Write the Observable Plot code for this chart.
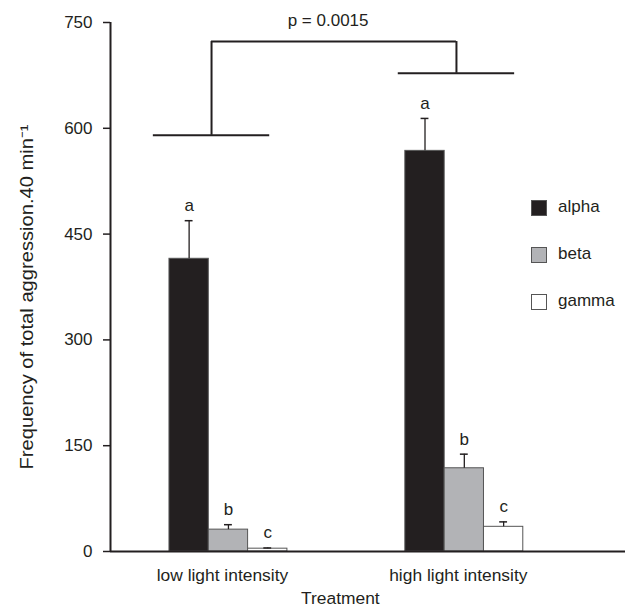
<!DOCTYPE html>
<html>
<head>
<meta charset="utf-8">
<script src="https://cdn.jsdelivr.net/npm/d3@7"></script>
<script src="https://cdn.jsdelivr.net/npm/@observablehq/plot@0.6"></script>
<style>
  html, body { margin: 0; padding: 0; background: #fff; }
  #wrap { position: relative; width: 627px; height: 607px; font-family: "Liberation Sans", Arial, sans-serif; color: #231f20; }
  #legend { position: absolute; left: 531px; top: 200px; font-size: 17px; }
  .row { position: relative; height: 47px; }
  .sw { position: absolute; left: 0; top: 0; width: 14px; height: 14px; border: 1px solid #555; }
  .lab { position: absolute; left: 27px; top: -3px; line-height: 20px; }
</style>
</head>
<body>
<div id="wrap"></div>
<script>
// ---- data ----
const treatments = ["low light intensity", "high light intensity"];
const seriesNames = ["alpha", "beta", "gamma"];
const seriesColors = ["#231f20", "#b2b3b6", "#ffffff"];
const alphaMeans = [415, 568];
const betaMeans = [31, 118];
const gammaMeans = [4, 35];
const alphaErr = [54, 46];
const betaErr = [7, 20];
const gammaErr = [1, 7];
const alphaLetters = ["a", "a"];
const betaLetters = ["b", "b"];
const gammaLetters = ["c", "c"];
const yTicks = [0, 150, 300, 450, 600, 750];
const bracketLevels = [590, 678];
const bracketTop = 723;
const pLabel = "p = 0.0015";
const xTitle = "Treatment";
const yTitle = "Frequency of total aggression.40 min\u207B\u00B9";

// ---- build table ----
const meansBy = [alphaMeans, betaMeans, gammaMeans];
const errBy = [alphaErr, betaErr, gammaErr];
const lettersBy = [alphaLetters, betaLetters, gammaLetters];
const groupSpan = 6;      // x units per treatment group
const rows = [];
treatments.forEach((t, g) => {
  seriesNames.forEach((s, i) => {
    const x1 = g * groupSpan + 1.5 + i;
    rows.push({
      treatment: t, series: s, color: seriesColors[i],
      x1, x2: x1 + 1, xm: x1 + 0.5,
      value: meansBy[i][g], top: meansBy[i][g] + errBy[i][g],
      letter: lettersBy[i][g]
    });
  });
});
const groupCenters = treatments.map((t, g) => g * groupSpan + 3);
// bracket centres: slightly left of group centres (as drawn)
const bracketCentres = [groupCenters[0] - 0.43, groupCenters[1] - 0.2];
const bracketHalf = 1.48;
const brackets = bracketCentres.map((c, g) => ({c, level: bracketLevels[g]}));

const ink = "#231f20";

const chart = Plot.plot({
  width: 627,
  height: 607,
  marginLeft: 110,
  marginRight: 2,
  marginTop: 22,
  marginBottom: 56,
  style: {fontFamily: "'Liberation Sans', Arial, sans-serif", fontSize: "17px", color: ink, background: "#fff", overflow: "visible"},
  x: {domain: [0, 13.1], axis: null},
  y: {domain: [0, 750], axis: null},
  marks: [
    // bars
    Plot.rectY(rows, {x1: "x1", x2: "x2", y: "value", fill: "color", stroke: "#555", strokeWidth: 1}),
    // error whiskers (upper only)
    Plot.ruleX(rows, {x: "xm", y1: "value", y2: "top", stroke: ink, strokeWidth: 1.3}),
    Plot.ruleY(rows, {y: "top", x1: d => d.xm - 0.1, x2: d => d.xm + 0.1, stroke: ink, strokeWidth: 1.5}),
    // letters
    Plot.text(rows, {x: "xm", y: "top", text: "letter", dy: -15, lineAnchor: "middle", fill: ink, fontSize: 17}),
    // axes
    Plot.axisY({ticks: yTicks, tickSize: 7, tickPadding: 11, label: null, fontSize: 17, strokeWidth: 1.5}),
    Plot.ruleX([0], {y1: 0, y2: 750, stroke: ink, strokeWidth: 2}),
    Plot.ruleY([0], {stroke: ink, strokeWidth: 2}),
    Plot.text(treatments, {x: (d, i) => groupCenters[i], y: 0, dx: -6, dy: 24, lineAnchor: "middle", fill: ink, fontSize: 17.4}),
    Plot.text([xTitle], {x: groupSpan, y: 0, dx: -6, dy: 47, lineAnchor: "middle", fill: ink, fontSize: 17.4}),
    Plot.text([yTitle], {frameAnchor: "left", dx: -83, dy: 10, rotate: -90, textAnchor: "middle", lineAnchor: "middle", fill: ink, fontSize: 18, className: "ytitle"}),
    // significance bracket
    Plot.ruleY(brackets, {y: "level", x1: d => d.c - bracketHalf, x2: d => d.c + bracketHalf, stroke: ink, strokeWidth: 2}),
    Plot.ruleX(brackets, {x: "c", y1: "level", y2: bracketTop, stroke: ink, strokeWidth: 2}),
    Plot.ruleY([bracketTop], {x1: bracketCentres[0], x2: bracketCentres[1], stroke: ink, strokeWidth: 2}),
    Plot.text([pLabel], {x: (bracketCentres[0] + bracketCentres[1]) / 2 - 0.15, y: bracketTop, dy: -21, lineAnchor: "middle", fill: ink, fontSize: 17})
  ]
});

// stretch the y title to the drawn length
d3.select(chart).selectAll(".ytitle text")
  .attr("textLength", 345)
  .attr("lengthAdjust", "spacingAndGlyphs");

const wrap = document.getElementById("wrap");
wrap.appendChild(chart);

// legend (inside plot area, at right)
const legend = document.createElement("div");
legend.id = "legend";
seriesNames.forEach((s, i) => {
  const row = document.createElement("div");
  row.className = "row";
  const sw = document.createElement("div");
  sw.className = "sw";
  sw.style.background = seriesColors[i];
  const lab = document.createElement("div");
  lab.className = "lab";
  lab.textContent = s;
  row.appendChild(sw); row.appendChild(lab);
  legend.appendChild(row);
});
wrap.appendChild(legend);
</script>
</body>
</html>
